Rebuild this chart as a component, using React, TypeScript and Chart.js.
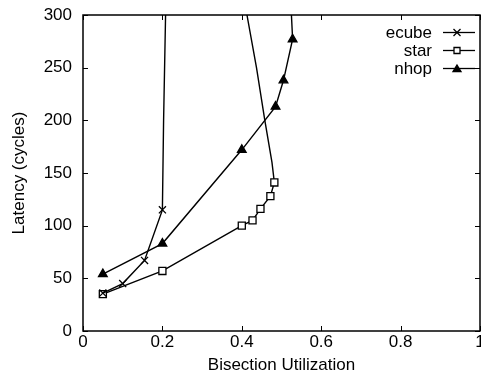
import React, { useEffect, useRef } from "react";
import { Chart, registerables } from "chart.js";
Chart.register(...registerables);

const xTicks = [0, 0.2, 0.4, 0.6, 0.8, 1];
const yTicks = [0, 50, 100, 150, 200, 250, 300];

// marked points followed by the unmarked continuation of each curve
const ecubeX = [0.05, 0.1, 0.155, 0.2, 0.203, 0.208, 0.21];
const ecubeY = [36, 45, 67, 115, 200, 300, 330];
const ecubeMarked = [true, true, true, true, false, false, false];

const starX = [0.05, 0.2, 0.4, 0.427, 0.447, 0.472, 0.482, 0.476, 0.458, 0.437, 0.413, 0.405];
const starY = [35, 57, 100, 105, 116, 128, 141, 160, 200, 250, 300, 320];
const starMarked = [true, true, true, true, true, true, true, false, false, false, false, false];

const nhopX = [0.05, 0.2, 0.4, 0.485, 0.505, 0.528, 0.525, 0.525];
const nhopY = [54, 83, 172, 213, 238, 277, 300, 330];
const nhopMarked = [true, true, true, true, true, true, false, false];

const legendLabels = ["ecube", "star", "nhop"];

const FONT = "'Liberation Sans', Arial, Helvetica, sans-serif";
const FS = 17;

function pts(xs: number[], ys: number[]) {
  return xs.map((x, i) => ({ x, y: ys[i] }));
}

function drawMarker(ctx: CanvasRenderingContext2D, style: string, x: number, y: number, fill: string) {
  ctx.save();
  ctx.strokeStyle = "#000";
  ctx.fillStyle = fill;
  ctx.lineWidth = 1.3;
  const r = 3.5;
  ctx.beginPath();
  if (style === "crossRot") {
    ctx.moveTo(x - r, y - r);
    ctx.lineTo(x + r, y + r);
    ctx.moveTo(x + r, y - r);
    ctx.lineTo(x - r, y + r);
    ctx.stroke();
  } else if (style === "rect") {
    ctx.rect(x - 3, y - 3, 6, 6);
    ctx.fill();
    ctx.stroke();
  } else {
    ctx.moveTo(x, y - r);
    ctx.lineTo(x + r + 0.5, y + r - 0.5);
    ctx.lineTo(x - r - 0.5, y + r - 0.5);
    ctx.closePath();
    ctx.fill();
    ctx.stroke();
  }
  ctx.restore();
}

const framePlugin = {
  id: "frame",
  afterDatasetsDraw(chart: any) {
    const { ctx, chartArea: a, scales } = chart;
    ctx.save();
    ctx.strokeStyle = "#000";
    ctx.lineWidth = 1.5;
    ctx.strokeRect(a.left, a.top, a.right - a.left, a.bottom - a.top);
    ctx.lineWidth = 1;
    const tl = 5;
    ctx.beginPath();
    for (const v of xTicks) {
      const px = Math.round(scales.x.getPixelForValue(v)) + 0.5;
      ctx.moveTo(px, a.bottom);
      ctx.lineTo(px, a.bottom - tl);
      ctx.moveTo(px, a.top);
      ctx.lineTo(px, a.top + tl);
    }
    for (const v of yTicks) {
      const py = Math.round(scales.y.getPixelForValue(v)) + 0.5;
      ctx.moveTo(a.left, py);
      ctx.lineTo(a.left + tl, py);
      ctx.moveTo(a.right, py);
      ctx.lineTo(a.right - tl, py);
    }
    ctx.stroke();

    // legend
    const styles = ["crossRot", "rect", "triangle"];
    const fills = ["#000", "#fff", "#000"];
    ctx.font = FS + "px " + FONT;
    ctx.textAlign = "right";
    ctx.textBaseline = "middle";
    legendLabels.forEach((label, i) => {
      const y = a.top + 17 + i * 18;
      ctx.fillStyle = "#000";
      ctx.fillText(label, a.right - 48, y + 1);
      ctx.beginPath();
      ctx.lineWidth = 1.3;
      ctx.strokeStyle = "#000";
      ctx.moveTo(a.right - 37, y + 0.5);
      ctx.lineTo(a.right - 5, y + 0.5);
      ctx.stroke();
      drawMarker(ctx, styles[i], a.right - 23, y + 0.5, fills[i]);
    });
    ctx.restore();
  },
};

export default function App() {
  const ref = useRef<HTMLCanvasElement>(null);
  useEffect(() => {
    document.body.style.margin = "0";
    const mk = (label: string, xs: number[], ys: number[], marked: boolean[], style: string, fill: string, r: number) => ({
      label,
      data: pts(xs, ys),
      borderColor: "#000",
      borderWidth: 1.4,
      backgroundColor: fill,
      pointBorderColor: "#000",
      pointBackgroundColor: fill,
      pointBorderWidth: 1.3,
      pointStyle: style,
      pointRadius: marked.map((m) => (m ? r : 0)),
      tension: 0,
      fill: false,
    });
    const chart = new Chart(ref.current!, {
      type: "line",
      data: {
        datasets: [
          mk("ecube", ecubeX, ecubeY, ecubeMarked, "crossRot", "#000", 5),
          mk("star", starX, starY, starMarked, "rect", "#fff", 5),
          mk("nhop", nhopX, nhopY, nhopMarked, "triangle", "#000", 5),
        ] as any,
      },
      options: {
        responsive: false,
        animation: false,
        layout: { padding: { top: 15, right: 12, left: 0, bottom: 0 } },
        plugins: { legend: { display: false }, tooltip: { enabled: false } },
        scales: {
          x: {
            type: "linear",
            min: 0,
            max: 1,
            afterBuildTicks: (s: any) => {
              s.ticks = xTicks.map((v) => ({ value: v }));
            },
            afterFit: (s: any) => {
              s.height = 46;
              s.paddingLeft = 0;
              s.paddingRight = 0;
            },
            grid: { display: false, drawTicks: false },
            border: { display: false },
            ticks: {
              color: "#000",
              padding: 1,
              font: { family: FONT, size: FS },
              maxRotation: 0,
              autoSkip: false,
              callback: (v: any) => String(v),
            },
            title: {
              display: true,
              text: "Bisection Utilization",
              color: "#000",
              font: { family: FONT, size: FS },
              padding: { top: 0, bottom: 1 },
            },
          },
          y: {
            type: "linear",
            min: 0,
            max: 300,
            afterBuildTicks: (s: any) => {
              s.ticks = yTicks.map((v) => ({ value: v }));
            },
            afterFit: (s: any) => {
              s.width = 83;
              s.paddingTop = 0;
              s.paddingBottom = 0;
            },
            grid: { display: false, drawTicks: false },
            border: { display: false },
            ticks: {
              color: "#000",
              padding: 11,
              autoSkip: false,
              font: { family: FONT, size: FS },
            },
            title: {
              display: true,
              text: "Latency (cycles)",
              color: "#000",
              font: { family: FONT, size: FS },
              padding: { top: 9, bottom: 0 },
            },
          },
        },
      },
      plugins: [framePlugin],
    });
    return () => chart.destroy();
  }, []);
  return (
    <div style={{ width: 481, height: 377, overflow: "hidden" }}>
      <canvas ref={ref} width={492} height={377} style={{ display: "block" }} />
    </div>
  );
}
